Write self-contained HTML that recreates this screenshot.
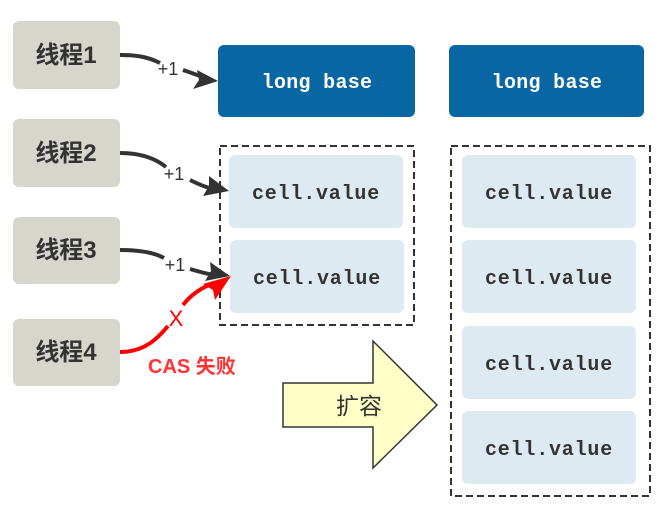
<!DOCTYPE html>
<html><head><meta charset="utf-8"><style>
html,body{margin:0;padding:0;background:#fff;width:664px;height:511px;overflow:hidden}
svg text{font-family:"Liberation Sans","Noto Sans CJK SC",sans-serif}
.m{font-family:"Liberation Mono","DejaVu Sans Mono",monospace !important}
</style></head><body>
<svg width="664" height="511" viewBox="0 0 664 511" xmlns="http://www.w3.org/2000/svg">
<g fill="#d6d6cd">
<rect x="13" y="21" width="107" height="68" rx="6"/>
<rect x="13" y="119" width="107" height="68" rx="6"/>
<rect x="13" y="217" width="107" height="67" rx="6"/>
<rect x="13" y="319" width="107" height="67" rx="6"/>
</g>
<g font-size="24" fill="#333" text-anchor="middle" font-weight="bold">
<text x="66" y="63">线程1</text>
<text x="66" y="161">线程2</text>
<text x="66" y="258">线程3</text>
<text x="66" y="360">线程4</text>
</g>
<rect x="218" y="45" width="197" height="72" rx="6" fill="#0866a3"/>
<rect x="449" y="45" width="195" height="72" rx="6" fill="#0866a3"/>
<g font-size="20" font-weight="bold" fill="#fff" text-anchor="middle">
<text class="m" x="317" y="88" letter-spacing="0.3">long base</text>
<text class="m" x="547" y="88" letter-spacing="0.3">long base</text>
</g>
<rect x="220" y="146" width="194" height="179" fill="none" stroke="#333" stroke-width="2" stroke-dasharray="7,4"/>
<rect x="451" y="146" width="199" height="350" fill="none" stroke="#333" stroke-width="2" stroke-dasharray="7,4"/>
<g fill="#deeaf2">
<rect x="229" y="155" width="174" height="73" rx="6"/>
<rect x="230" y="240" width="174" height="73" rx="6"/>
<rect x="462" y="155" width="174" height="73" rx="6"/>
<rect x="462" y="240" width="174" height="73" rx="6"/>
<rect x="462" y="326" width="174" height="73" rx="6"/>
<rect x="462" y="411" width="174" height="73" rx="6"/>
</g>
<g font-size="20" fill="#333" text-anchor="middle" font-weight="bold" letter-spacing="0.8">
<text class="m" x="316" y="199">cell.value</text>
<text class="m" x="317" y="284">cell.value</text>
<text class="m" x="549" y="199">cell.value</text>
<text class="m" x="549" y="284">cell.value</text>
<text class="m" x="549" y="370">cell.value</text>
<text class="m" x="549" y="455">cell.value</text>
</g>
<g fill="none" stroke="#333" stroke-width="4">
<path d="M120,55 C140,55 150,58 160,63" />
<path d="M183,70 C195,74 205,78 204,77" />
<path d="M120,153 C140,153 155,158 166,167"/>
<path d="M190,180 C200,185 208,188 214,189"/>
<path d="M120,250 C140,250 155,253 164,258"/>
<path d="M190,269 C200,272 208,274 214,275"/>
</g>
<g fill="#333">
<path d="M218,81 L193,89 L199,80 L197,70 Z"/>
<path d="M229,191 L203,196 L209,186 L209,176 Z"/>
<path d="M230,276 L205,281 L211,271 L210,262 Z"/>
</g>
<g font-size="18" fill="#333" text-anchor="middle">
<text x="168" y="75">+1</text>
<text x="174" y="180">+1</text>
<text x="175" y="271">+1</text>
</g>
<path d="M120,352 C145,352 158,338 168,326" fill="none" stroke="#f00" stroke-width="4"/>
<path d="M183,305 C190,296 200,288 214,283" fill="none" stroke="#f00" stroke-width="4"/>
<path d="M231,276 L215,300 L213,290 L203,284 Z" fill="#f00"/>
<text x="176" y="326" font-size="22" fill="#f00" text-anchor="middle">X</text>
<text x="148" y="373" font-size="20" font-weight="bold" fill="#f33">CAS 失败</text>
<path d="M283,383 L373,383 L373,341 L437,405 L373,468 L373,427 L283,427 Z" fill="#ffffc8" stroke="#333" stroke-width="1.5"/>
<text x="359" y="414" font-size="23" fill="#333" text-anchor="middle">扩容</text>
</svg>
</body></html>
